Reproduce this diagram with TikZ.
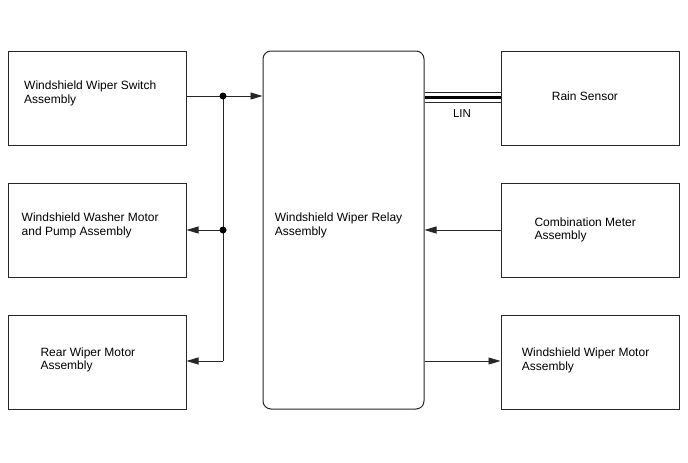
\documentclass[tikz,border=0pt]{standalone}
\usepackage{fontspec}
\setmainfont{Liberation Sans}
\usepackage[dvipsnames]{xcolor}
\usetikzlibrary{arrows.meta,positioning,calc}
\tikzset{
  unitbox/.style={
    draw=black!85,
    line width=1pt,
    minimum width=178pt,
    minimum height=94pt,
    inner sep=0pt
  },
  relaybox/.style={
    draw=black!85,
    line width=1pt,
    rounded corners=8pt,
    minimum width=161pt,
    minimum height=358pt,
    inner sep=0pt
  },
  % base anchor of a two-line text = baseline of its last line
  boxtext/.style={
    anchor=base west,
    align=left,
    inner sep=0pt,
    font=\fontsize{12}{13.5}\selectfont
  },
  sigline/.style={line width=0.8pt, draw=black!85},
  sigarrow/.style={sigline, -{Triangle[length=12pt,width=7pt]}},
  junction/.style={circle, fill=black, inner sep=0pt, minimum size=7pt}
}

\begin{document}
\begin{tikzpicture}[x=1pt,y=-1pt]
  \useasboundingbox (0,0) rectangle (688,463);
  % boxes
  \node[unitbox] (swbox) at (97,98) {};
  \node[unitbox] (washbox) at (97,230) {};
  \node[unitbox] (rearbox) at (97,362) {};
  \node[relaybox] (relay) at (343.5,230) {};
  \node[unitbox] (rain) at (590,98) {};
  \node[unitbox] (meter) at (590,230) {};
  \node[unitbox] (motor) at (590,362) {};
  % texts
  \node[boxtext] (swtxt) at (24,103.2) {Windshield Wiper Switch\\Assembly};
  \node[boxtext] (washtxt) at (21.5,235.2) {Windshield Washer Motor\\and Pump Assembly};
  \node[boxtext] (reartxt) at (40.3,369.8) {Rear Wiper Motor\\Assembly};
  \node[boxtext] (relaytxt) at (274.7,235.2) {Windshield Wiper Relay\\Assembly};
  \node[boxtext] (raintxt) at (551.7,100.3) {Rain Sensor};
  \node[boxtext] (metertxt) at (534.3,239.5) {Combination Meter\\Assembly};
  \node[boxtext] (motortxt) at (521.7,370.2) {Windshield Wiper Motor\\Assembly};
  % switch line and branches
  \coordinate (j1) at (223,96);
  \coordinate (j2) at (223,230);
  \coordinate (j3) at (223,361);
  \draw[sigarrow] (swbox.east|-j1) -- (relay.west|-j1);
  \draw[sigline] (j1) -- (j3);
  \draw[sigarrow] (j2) -- (washbox.east|-j2);
  \draw[sigarrow] (j3) -- (rearbox.east|-j3);
  \node[junction] (dot1) at (j1) {};
  \node[junction] (dot2) at (j2) {};
  % LIN bus
  \coordinate (lin) at (462,97.5);
  \draw[sigline] ([yshift=-5.2pt]relay.east|-lin) -- ([yshift=-5.2pt]rain.west|-lin);
  \draw[line width=3.5pt] (relay.east|-lin) -- (rain.west|-lin);
  \draw[sigline] ([yshift=5.2pt]relay.east|-lin) -- ([yshift=5.2pt]rain.west|-lin);
  \node[anchor=base, inner sep=0pt, font=\fontsize{11.5}{13}\selectfont] (lintxt) at (462,117.5) {LIN};
  % relay outputs and inputs
  \draw[sigarrow] (meter.west) -- (relay.east|-meter.west);
  \draw[sigarrow] (relay.east|-j3) -- (motor.west|-j3);
\end{tikzpicture}
\end{document}
